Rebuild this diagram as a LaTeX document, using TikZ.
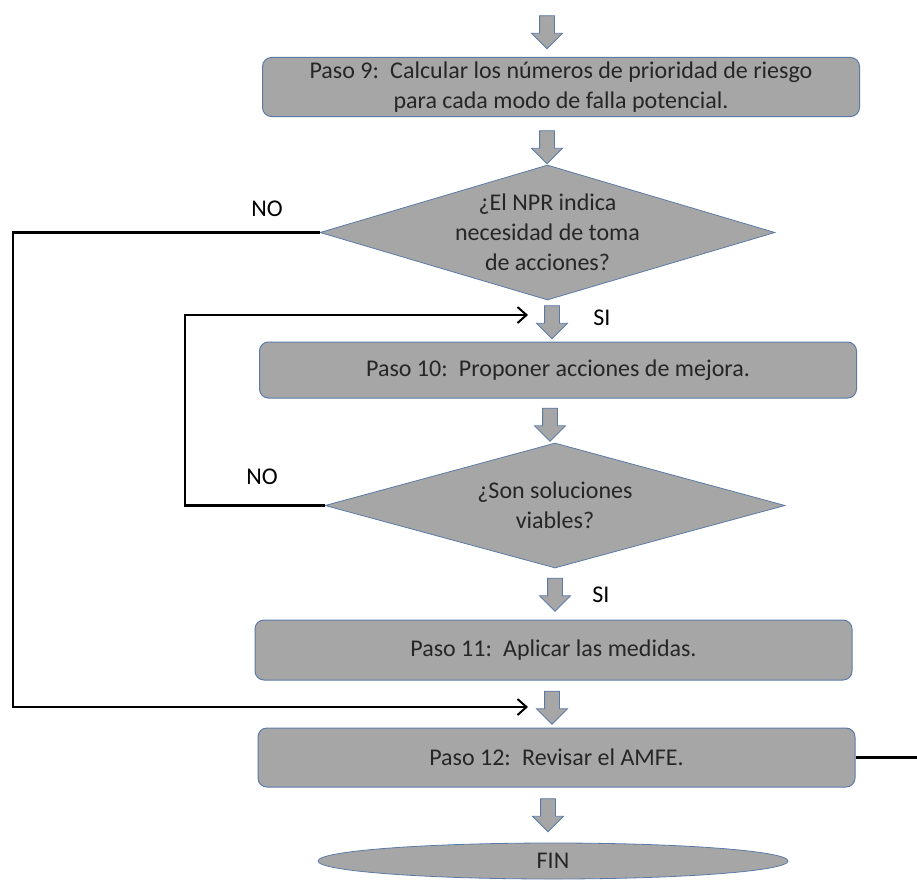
\documentclass[tikz,border=0pt]{standalone}
\usepackage{fontspec}
\setmainfont{Carlito}
\usetikzlibrary{shapes.geometric,shapes.arrows,arrows.meta}
\definecolor{BoxGray}{HTML}{A6A6A6}
\definecolor{BoxEdge}{HTML}{5B7BA6}
\definecolor{BoxText}{HTML}{262626}
\tikzset{
  stepbox/.style={
    rectangle,
    rounded corners=9pt,
    fill=BoxGray,
    draw=BoxEdge,
    line width=1pt,
    minimum width=597pt,
    minimum height=59pt,
    text=BoxText,
    align=center,
    font=\fontsize{24}{30}\selectfont
  },
  decision/.style={
    diamond,
    fill=BoxGray,
    draw=BoxEdge,
    line width=0.8pt,
    inner sep=0pt
  },
  qtext/.style={
    text=BoxText,
    align=center,
    font=\fontsize{24}{30}\selectfont
  },
  downarrow/.style={
    single arrow,
    shape border rotate=270,
    fill=BoxGray,
    draw=BoxEdge,
    line width=0.8pt,
    inner sep=7pt,
    minimum width=30pt,
    minimum height=33pt,
    single arrow head extend=8pt
  },
  branch/.style={
    font=\fontsize{24}{28}\selectfont,
    text=black
  },
  loopline/.style={
    draw=black,
    line width=2.4pt,
    line join=miter
  },
  loophead/.style={
    -{Straight Barb[length=9pt,width=16pt,line width=2pt]}
  }
}

\begin{document}
\begin{tikzpicture}[x=1pt,y=-1pt]
  \useasboundingbox (0,0) rectangle (917,880);

  % pasos
  \node[downarrow] (a0) at (547,28.5) {};
  \node[stepbox] (p9) at (561,87) {Paso 9:\, Calcular los números de prioridad de riesgo\\para cada modo de falla potencial.};
  \node[downarrow] (a1) at (547,143.5) {};

  \node[
    decision,
    minimum width=455pt,
    minimum height=135pt
  ] (d1) at (547.5,232.5) {};
  \node[qtext] (q1) at (d1.center) {¿El NPR indica\\necesidad de toma\\de acciones?};

  \node[downarrow] (a2) at (552,318.5) {};
  \node[branch] (si1) at (602,318) {SI};
  \node[stepbox, minimum height=56pt] (p10) at (558,370) {Paso 10:\, Proponer acciones de mejora.};
  \node[downarrow] (a3) at (550,421) {};

  \node[
    decision,
    minimum width=460pt,
    minimum height=125pt
  ] (d2) at (555,505.5) {};
  \node[qtext] (q2) at (d2.center) {¿Son soluciones\\viables?};

  \node[downarrow] (a4) at (555,591) {};
  \node[branch] (si2) at (601,595) {SI};
  \node[stepbox, minimum height=60pt] (p11) at (553.5,650) {Paso 11:\, Aplicar las medidas.};
  \node[downarrow] (a5) at (552,704) {};
  \node[stepbox] (p12) at (556.5,757.5) {Paso 12:\, Revisar el AMFE.};
  \node[downarrow] (a6) at (548,811.5) {};

  \node[
    ellipse,
    fill=BoxGray,
    draw=BoxEdge,
    line width=0.8pt,
    minimum width=470pt,
    minimum height=36pt,
    inner sep=0pt,
    text=BoxText,
    font=\fontsize{24}{28}\selectfont
  ] (fin) at (553,861) {FIN};

  % retornos
  \node[branch] (no1) at (267,209) {NO};
  \node[branch] (no2) at (262,477) {NO};
  \coordinate (out12) at (917,757.5);

  \draw[loopline, loophead] (d1.west) -- (13,232.5) -- (13,707) -- ([xshift=-24pt]a5.center |- 0,707);
  \draw[loopline, loophead] (d2.west) -- (185,505.5) -- (185,315) -- ([xshift=-24pt]a2.center |- 0,315);
  \draw[loopline] (p12.east) -- (out12);
\end{tikzpicture}
\end{document}
